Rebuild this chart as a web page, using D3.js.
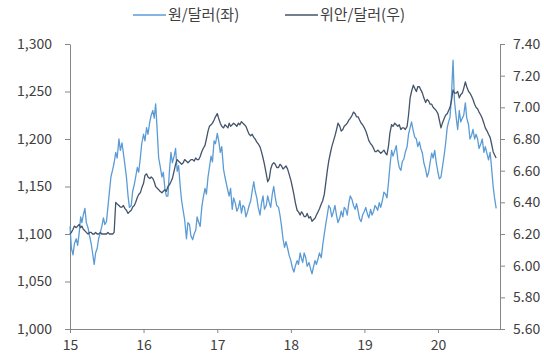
<!DOCTYPE html>
<html><head><meta charset="utf-8">
<script src="https://cdn.jsdelivr.net/npm/d3@7"></script>
<style>
html,body{margin:0;padding:0;background:#fff;}
text{font-family:"Noto Sans CJK KR","Noto Sans",sans-serif;}
</style></head>
<body><svg id="c" width="544" height="356"></svg>
<script>
// Weekly observations (days 1, 8, 16, 23 of each month) starting Jan 1, 2015
const startYear = 2015;
const obsDays = [1, 8, 16, 23];
const krw = [
 1108,1085,1078,1090,1095,1088,1102,1118,1112,1120,1127,1112,1106,1098,1090,1080,1068,1080,1085,1095,
 1102,1108,1117,1110,1113,1128,1145,1160,1168,1175,1186,1180,1200,1188,1196,1185,1172,1160,1140,1128,
 1130,1145,1152,1160,1170,1165,1180,1195,1205,1198,1212,1205,1218,1225,1230,1222,1237,1212,1180,1172,
 1160,1165,1148,1140,1140,1165,1186,1175,1182,1190,1166,1172,1150,1135,1124,1115,1095,1112,1110,1098,
 1094,1100,1104,1118,1112,1108,1128,1138,1148,1142,1160,1170,1182,1176,1198,1195,1206,1198,1186,1192,
 1168,1160,1152,1145,1140,1148,1126,1138,1132,1124,1128,1135,1122,1130,1128,1118,1124,1130,1135,1145,
 1155,1145,1138,1128,1120,1132,1140,1126,1130,1140,1133,1128,1142,1150,1138,1130,1128,1120,1108,1095,
 1086,1092,1085,1078,1072,1065,1060,1066,1072,1068,1080,1074,1070,1080,1075,1066,1070,1064,1058,1065,
 1072,1068,1074,1080,1075,1088,1100,1110,1120,1130,1127,1118,1124,1130,1119,1112,1117,1124,1118,1128,
 1126,1120,1133,1140,1136,1130,1126,1132,1124,1116,1113,1120,1124,1128,1121,1117,1126,1120,1124,1130,
 1128,1125,1133,1128,1136,1144,1142,1138,1155,1172,1188,1182,1188,1193,1178,1170,1167,1176,1179,1186,
 1192,1205,1212,1218,1208,1202,1200,1192,1197,1190,1185,1175,1168,1160,1165,1175,1185,1180,1188,1176,
 1165,1158,1160,1170,1183,1195,1212,1218,1223,1245,1283,1240,1222,1210,1230,1218,1222,1225,1238,1222,
 1215,1200,1204,1210,1200,1205,1200,1190,1195,1200,1186,1192,1184,1178,1186,1170,1150,1138,1127];
const cny = [
 6.20,6.21,6.23,6.25,6.24,6.25,6.26,6.24,6.25,6.23,6.22,6.21,6.20,6.21,6.21,6.20,6.20,6.21,6.20,6.20,
 6.21,6.20,6.20,6.20,6.20,6.21,6.20,6.20,6.20,6.21,6.40,6.39,6.38,6.37,6.37,6.38,6.36,6.35,6.33,6.34,
 6.35,6.37,6.38,6.40,6.43,6.45,6.46,6.49,6.52,6.57,6.58,6.56,6.55,6.56,6.55,6.53,6.50,6.49,6.48,6.47,
 6.46,6.47,6.48,6.47,6.50,6.51,6.53,6.55,6.60,6.64,6.67,6.66,6.65,6.64,6.65,6.67,6.66,6.65,6.66,6.67,
 6.67,6.66,6.68,6.67,6.67,6.69,6.72,6.74,6.76,6.80,6.85,6.88,6.89,6.90,6.92,6.94,6.96,6.93,6.90,6.88,
 6.87,6.89,6.88,6.87,6.90,6.88,6.89,6.90,6.89,6.88,6.90,6.89,6.91,6.90,6.89,6.88,6.85,6.83,6.82,6.83,
 6.81,6.80,6.78,6.77,6.75,6.72,6.68,6.64,6.58,6.53,6.55,6.61,6.64,6.65,6.64,6.62,6.62,6.64,6.63,6.61,
 6.62,6.63,6.61,6.58,6.54,6.50,6.45,6.40,6.35,6.34,6.32,6.34,6.33,6.31,6.31,6.33,6.30,6.31,6.28,6.29,
 6.30,6.32,6.34,6.36,6.39,6.41,6.45,6.52,6.60,6.66,6.71,6.75,6.79,6.82,6.86,6.90,6.88,6.85,6.86,6.88,
 6.89,6.90,6.92,6.93,6.95,6.97,6.96,6.94,6.94,6.92,6.90,6.89,6.87,6.85,6.82,6.79,6.77,6.76,6.74,6.72,
 6.72,6.73,6.72,6.71,6.72,6.73,6.71,6.70,6.76,6.84,6.89,6.88,6.90,6.89,6.88,6.89,6.86,6.87,6.87,6.86,
 6.88,6.95,7.06,7.10,7.14,7.12,7.10,7.13,7.13,7.11,7.09,7.06,7.03,7.05,7.04,7.02,7.02,7.00,6.99,6.98,
 6.96,6.92,6.87,6.90,6.93,6.95,6.96,6.98,7.00,7.04,7.11,7.09,7.09,7.10,7.06,7.08,7.09,7.12,7.16,7.13,
 7.10,7.09,7.07,7.05,7.02,7.00,6.99,6.97,6.95,6.93,6.90,6.87,6.85,6.83,6.81,6.77,6.72,6.70,6.68];
const yearTicks = [2015,2016,2017,2018,2019,2020];
const yearLabels = ["15","16","17","18","19","20"];
const leftTicks = [1000,1050,1100,1150,1200,1250,1300];
const rightTicks = [5.6,5.8,6.0,6.2,6.4,6.6,6.8,7.0,7.2,7.4];
const seriesNames = ["원/달러(좌)","위안/달러(우)"];
const colors = ["#5B9BD5","#44546A"];

const dates = krw.map((_,j)=>new Date(startYear, Math.floor(j/4), obsDays[j%4]));

const svg = d3.select("#c");
const L = 70, R = 500, T = 44, B = 329;
const x = d3.scaleTime().domain([new Date(2015,0,1), new Date(2020,10,4)]).range([L,R]);
const yL = d3.scaleLinear().domain([1000,1300]).range([B,T]);
const yR = d3.scaleLinear().domain([5.6,7.4]).range([B,T]);

const axisColor = "#868686", textColor = "#404040";
function style(g){
  g.select(".domain").attr("stroke",axisColor);
  g.selectAll(".tick line").attr("stroke",axisColor);
  g.selectAll(".tick text").attr("fill",textColor).style("font-size","14px");
}
svg.append("g").attr("transform",`translate(${L},0)`)
  .call(d3.axisLeft(yL).tickValues(leftTicks).tickSize(5).tickSizeOuter(0).tickPadding(13).tickFormat(d3.format(",")))
  .call(style);
svg.append("g").attr("transform",`translate(${R},0)`)
  .call(d3.axisRight(yR).tickValues(rightTicks).tickSize(5).tickSizeOuter(0).tickPadding(8).tickFormat(d3.format(".2f")))
  .call(style);
svg.append("g").attr("transform",`translate(0,${B})`)
  .call(d3.axisBottom(x).tickValues(yearTicks.map(y=>new Date(y,0,1))).tickSize(4).tickSizeOuter(0).tickPadding(7)
    .tickFormat((d,i)=>yearLabels[i]))
  .call(style);

const lineL = d3.line().x((d,i)=>x(dates[i])).y(d=>yL(d));
const lineR = d3.line().x((d,i)=>x(dates[i])).y(d=>yR(d));
svg.append("path").datum(krw).attr("d",lineL).attr("fill","none").attr("stroke",colors[0]).attr("stroke-width",1.3).attr("stroke-linejoin","round");
svg.append("path").datum(cny).attr("d",lineR).attr("fill","none").attr("stroke",colors[1]).attr("stroke-width",1.3).attr("stroke-linejoin","round");

// legend
const legX = [133, 285];
seriesNames.forEach((n,i)=>{
  const g = svg.append("g");
  g.append("line").attr("x1",legX[i]).attr("x2",legX[i]+33).attr("y1",15).attr("y2",15).attr("stroke",colors[i]).attr("stroke-width",1.5);
  g.append("text").attr("x",legX[i]+35).attr("y",20).attr("fill",textColor).style("font-size","15px").text(n);
});
</script></body></html>
